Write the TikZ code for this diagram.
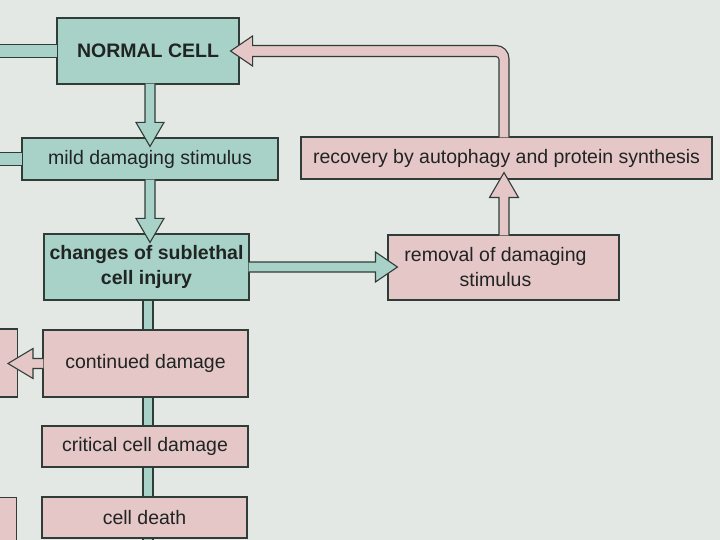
\documentclass[tikz,border=0pt]{standalone}
\usepackage{fontspec}
\setmainfont{Liberation Sans}
\usetikzlibrary{calc}
\definecolor{bg}{RGB}{228,232,228}
\definecolor{tealfill}{RGB}{168,210,200}
\definecolor{pinkfill}{RGB}{228,199,198}
\definecolor{edgecol}{RGB}{48,60,56}
\definecolor{txtcol}{RGB}{32,36,34}
\tikzset{
  basebox/.style={draw=edgecol, line width=1.1pt, inner sep=0pt, align=center,
    font=\fontsize{19.5}{25}\selectfont, text=txtcol},
  tealbox/.style={basebox, fill=tealfill},
  pinkbox/.style={basebox, fill=pinkfill},
  fat/.style={draw=edgecol, fill=tealfill, line width=1.1pt, line join=miter},
  fatpink/.style={fat, fill=pinkfill},
}
\newcommand\mybar[2]{%
  \fill[tealfill] let \p1=(#1), \p2=(#2), \p3=(colB) in (\x3-5pt,\y1) rectangle (\x3+5pt,\y2);
  \draw[edgecol, line width=1.1pt] let \p1=(#1), \p2=(#2), \p3=(colB) in
    (\x3-5pt,\y1) -- (\x3-5pt,\y2) (\x3+5pt,\y1) -- (\x3+5pt,\y2);}
\begin{document}
\begin{tikzpicture}[x=1pt,y=-1pt]
\clip (0,0) rectangle (720,540);
\fill[bg] (0,0) rectangle (720,540);
\coordinate (colA) at (150,0);
\coordinate (colB) at (148,0);
\coordinate (colC) at (504,0);
\coordinate (s1) at (-5,51);
\coordinate (s2) at (-5,159);
\coordinate (bot) at (148,560);

% boxes
\node[tealbox, minimum width=182pt, minimum height=66pt] (nc) at (148,51) {\bfseries NORMAL CELL};
\node[tealbox, minimum width=256pt, minimum height=42pt] (mild) at (150,159) {mild damaging stimulus};
\node[tealbox, minimum width=205pt, minimum height=66pt] (chg) at (146.5,267) {\bfseries changes of sublethal\\\bfseries cell injury};
\node[pinkbox, minimum width=231pt, minimum height=65pt] (rem) at (503.5,267.5) {removal of damaging\hspace*{16pt}\\stimulus\hspace*{16pt}};
\node[pinkbox, minimum width=411pt, minimum height=42pt] (rec) at (506.5,158) {recovery by autophagy and protein synthesis};
\node[pinkbox, minimum width=205pt, minimum height=67pt] (cont) at (145.5,363.5) {continued damage};
\node[pinkbox, minimum width=206pt, minimum height=41pt] (crit) at (145,446.5) {critical cell damage};
\node[pinkbox, minimum width=205pt, minimum height=41pt] (death) at (144.5,517.5) {cell death};
\node[pinkbox, minimum width=80pt, minimum height=68pt, anchor=east] (lA) at (18,363) {};
\node[pinkbox, minimum width=80pt, minimum height=80pt, anchor=north east] (lB) at (17,497) {};

% stubs to the left edge
\filldraw[fat] let \p1=(nc.west), \p2=(s1) in
  (\x1+1pt,\y1+6.5pt) -- (\x2,\y1+6.5pt) -- (\x2,\y1-6.5pt) -- (\x1+1pt,\y1-6.5pt);
\filldraw[fat] let \p1=(mild.west), \p2=(s2) in
  (\x1+1pt,\y1+6.5pt) -- (\x2,\y1+6.5pt) -- (\x2,\y1-6.5pt) -- (\x1+1pt,\y1-6.5pt);

% nc -> mild
\filldraw[fat] let \p1=(nc.south), \p2=(mild.north), \p3=(colA) in
  (\x3-5pt,\y1+1pt) -- (\x3-5pt,\y2+15pt) -- (\x3-14pt,\y2+15pt) -- (\x3,\y2-9pt)
  -- (\x3+14pt,\y2+15pt) -- (\x3+5pt,\y2+15pt) -- (\x3+5pt,\y1+1pt);
% mild -> chg
\filldraw[fat] let \p1=(mild.south), \p2=(chg.north), \p3=(colA) in
  (\x3-5pt,\y1+1pt) -- (\x3-5pt,\y2+15pt) -- (\x3-14pt,\y2+15pt) -- (\x3,\y2-9pt)
  -- (\x3+14pt,\y2+15pt) -- (\x3+5pt,\y2+15pt) -- (\x3+5pt,\y1+1pt);
% chg -> rem
\filldraw[fat] let \p1=(chg.east), \p2=(rem.west) in
  (\x1-1pt,\y1+5pt) -- (\x2-12pt,\y1+5pt) -- (\x2-12pt,\y1+15pt) -- (\x2+10pt,\y1)
  -- (\x2-12pt,\y1-15pt) -- (\x2-12pt,\y1-5pt) -- (\x1-1pt,\y1-5pt);
% rem -> rec
\filldraw[fatpink] let \p1=(rem.north), \p2=(rec.south), \p3=(colC) in
  (\x3-5pt,\y1-1pt) -- (\x3-5pt,\y2-18pt) -- (\x3-14.5pt,\y2-18pt) -- (\x3,\y2+7pt)
  -- (\x3+14.5pt,\y2-18pt) -- (\x3+5pt,\y2-18pt) -- (\x3+5pt,\y1-1pt);
% rec -> nc
\filldraw[fatpink] let \p1=(rec.north), \p2=(nc.east), \p3=(colC) in
  (\x3-5pt,\y1-1pt) [rounded corners=3pt] -- (\x3-5pt,\y2-5.5pt) -- (\x2+100pt,\y2-5.5pt)
  [sharp corners] -- (\x2+13pt,\y2-5.5pt) -- (\x2+13pt,\y2-15pt) -- (\x2-9pt,\y2)
  -- (\x2+13pt,\y2+15pt) -- (\x2+13pt,\y2+5.5pt) -- (\x2+100pt,\y2+5.5pt)
  [rounded corners=13pt] -- (\x3+5pt,\y2+5.5pt) -- (\x3+5pt,\y2-40pt)
  [sharp corners] -- (\x3+5pt,\y1-1pt);
% cont -> lA
\filldraw[fatpink] let \p1=(cont.west), \p2=(lA.east) in
  (\x1+1pt,\y1+5pt) -- (\x2+15pt,\y1+5pt) -- (\x2+15pt,\y1+15pt) -- (\x2-10pt,\y1)
  -- (\x2+15pt,\y1-15pt) -- (\x2+15pt,\y1-5pt) -- (\x1+1pt,\y1-5pt);

% lower column
\mybar{chg.south}{cont.north}
\mybar{cont.south}{crit.north}
\mybar{crit.south}{death.north}
\mybar{death.south}{bot}
\end{tikzpicture}
\end{document}
